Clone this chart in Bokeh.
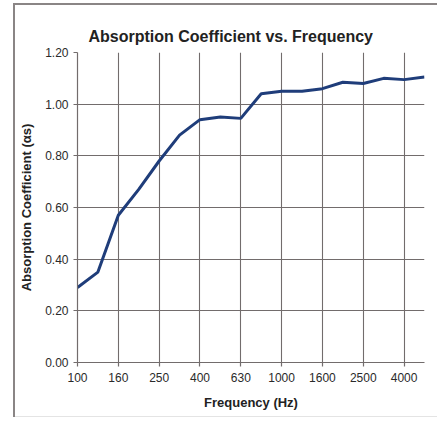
from bokeh.plotting import figure
from bokeh.models import FixedTicker, Range1d, NumeralTickFormatter
from bokeh.embed import file_html
from bokeh.resources import INLINE

# Data
frequencies = [100, 125, 160, 200, 250, 315, 400, 500, 630, 800,
               1000, 1250, 1600, 2000, 2500, 3150, 4000, 5000]
absorption = [0.29, 0.35, 0.57, 0.67, 0.78, 0.88, 0.94, 0.95, 0.945, 1.04,
              1.05, 1.05, 1.06, 1.085, 1.08, 1.10, 1.095, 1.105]
tick_labels = ["100", "160", "250", "400", "630", "1000", "1600", "2500", "4000"]
y_ticks = [0.0, 0.2, 0.4, 0.6, 0.8, 1.0, 1.2]

xs = list(range(len(frequencies)))
label_pos = [frequencies.index(int(t)) for t in tick_labels]

FONT = "Liberation Sans"
TXT = "#2a2a2a"
GRID = "#726c6c"

page_frame = ("inset 13px 3px 0 0 #ffffff, inset 0 -8px 0 0 #ffffff, "
              "inset 15px 5px 0 0 #8a8585, inset 0 -9px 0 0 #e4e4e4")

p = figure(width=437, height=425, output_backend="svg", toolbar_location=None,
           x_range=Range1d(0, len(frequencies) - 1), y_range=Range1d(0, 1.2),
           min_border_left=77, min_border_right=13, min_border_top=52, min_border_bottom=63,
           title="Absorption Coefficient vs. Frequency",
           styles={"box-shadow": page_frame})

p.outline_line_color = None
p.background_fill_color = "white"
p.border_fill_color = None

p.title.text_font = FONT
p.title.text_font_size = "16px"
p.title.text_font_style = "bold"
p.title.text_color = "#222222"
p.title.align = "left"
p.title.offset = 11
p.title.standoff = 16

p.line(xs, absorption, line_color="#1f3d7a", line_width=3)

p.xaxis.ticker = FixedTicker(ticks=label_pos)
p.xaxis.major_label_overrides = {pos: lab for pos, lab in zip(label_pos, tick_labels)}
p.yaxis.ticker = FixedTicker(ticks=y_ticks)
p.yaxis.formatter = NumeralTickFormatter(format="0.00")
p.xaxis.minor_tick_line_color = None
p.yaxis.minor_tick_line_color = None

for ax in (p.xaxis, p.yaxis):
    ax.axis_line_color = GRID
    ax.axis_line_width = 1.2
    ax.major_tick_line_color = GRID
    ax.major_tick_line_width = 1.2
    ax.major_tick_in = 0
    ax.major_tick_out = 4
    ax.major_label_text_font = FONT
    ax.major_label_text_font_size = "12px"
    ax.major_label_text_color = TXT
    ax.axis_label_text_font = FONT
    ax.axis_label_text_font_size = "13px"
    ax.axis_label_text_font_style = "bold"
    ax.axis_label_text_color = "#222222"

p.xaxis.axis_label = "Frequency (Hz)"
p.yaxis.axis_label = "Absorption Coefficient (\u03b1s)"
p.xaxis.major_label_standoff = 6
p.yaxis.major_label_standoff = 5
p.xaxis.axis_label_standoff = 10
p.yaxis.axis_label_standoff = 8

p.xgrid.grid_line_color = GRID
p.ygrid.grid_line_color = GRID
p.xgrid.grid_line_width = 1.1
p.ygrid.grid_line_width = 1.1

open("out.html", "w").write(file_html(p, INLINE))
